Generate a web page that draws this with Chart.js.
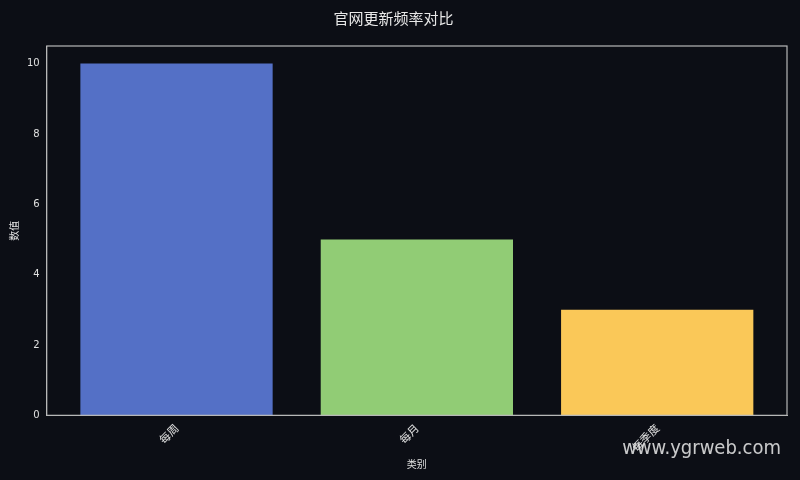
<!DOCTYPE html>
<html>
<head>
<meta charset="utf-8">
<script src="https://cdn.jsdelivr.net/npm/chart.js@4.4.1/dist/chart.umd.min.js"></script>
<style>
    html, body { margin: 0; padding: 0; background: #0c0e15; }
    #wrap { width: 800px; height: 480px; }
</style>
</head>
<body>
<div id="wrap"><canvas id="chart"></canvas></div>
<script>
// datos del gráfico
const categories = ["每周", "每月", "每季度"];
const values = [10, 5, 3];
const barColors = ["#5470c6", "#91cc75", "#fac858"];
const yTicks = [0, 2, 4, 6, 8, 10];

const FONT = "'Noto Sans CJK SC', 'DejaVu Sans', sans-serif";

// marco alrededor del área y marca de agua
const framePlugin = {
    id: "frame",
    afterDraw(chart) {
        const { ctx, chartArea } = chart;
        ctx.save();
        ctx.strokeStyle = "#b8b8b8";
        ctx.lineWidth = 1.2;
        ctx.strokeRect(chartArea.left, chartArea.top, chartArea.right - chartArea.left, chartArea.bottom - chartArea.top);
        ctx.fillStyle = "rgba(235,235,235,0.85)";
        ctx.font = "20px 'DejaVu Sans Condensed', 'DejaVu Sans', sans-serif";
        ctx.textAlign = "right";
        ctx.textBaseline = "middle";
        ctx.fillText("www.ygrweb.com", 781, 449);
        ctx.restore();
    }
};

const ctx = document.getElementById("chart").getContext("2d");
new Chart(ctx, {
    type: "bar",
    data: {
        datasets: [{
            data: values.map((v, i) => ({ x: i, y: v })),
            backgroundColor: barColors,
            borderColor: "rgba(255,255,255,0.35)",
            borderWidth: { bottom: 1, top: 0, left: 0, right: 0 },
            categoryPercentage: 1,
            barPercentage: 0.8
        }]
    },
    plugins: [framePlugin],
    options: {
        responsive: true,
        maintainAspectRatio: false,
        animation: false,
        layout: { padding: { left: 0, right: 13, top: 9, bottom: 6 } },
        plugins: {
            legend: { display: false },
            tooltip: { enabled: false },
            title: {
                display: true,
                text: "官网更新频率对比",
                color: "#e8e8e8",
                font: { family: FONT, size: 15, weight: "normal" },
                padding: { top: 0, bottom: 19 }
            }
        },
        scales: {
            x: {
                type: "linear",
                offset: false,
                min: -0.54,
                max: 2.54,
                afterBuildTicks(scale) {
                    scale.ticks = categories.map((c, i) => ({ value: i }));
                },
                grid: { display: false, drawTicks: true, tickLength: 4, tickColor: "#b8b8b8" },
                border: { color: "#b8b8b8" },
                ticks: {
                    color: "#e0e0e0",
                    font: { family: FONT, size: 11 },
                    minRotation: 45,
                    maxRotation: 45,
                    padding: 2,
                    callback: (v) => categories[v]
                },
                title: {
                    display: true,
                    text: "类别",
                    color: "#e0e0e0",
                    font: { family: FONT, size: 10 },
                    padding: { top: 2 }
                }
            },
            y: {
                min: 0,
                max: 10.5,
                afterBuildTicks(scale) {
                    scale.ticks = yTicks.map(v => ({ value: v }));
                },
                grid: { display: false, drawTicks: true, tickLength: 4, tickColor: "#b8b8b8" },
                border: { color: "#b8b8b8" },
                ticks: {
                    color: "#e0e0e0",
                    font: { family: "'DejaVu Sans', sans-serif", size: 10 },
                    padding: 3
                },
                title: {
                    display: true,
                    text: "数值",
                    color: "#e0e0e0",
                    font: { family: FONT, size: 10 },
                    padding: { top: 8, bottom: 4 }
                }
            }
        }
    }
});
</script>
</body>
</html>
